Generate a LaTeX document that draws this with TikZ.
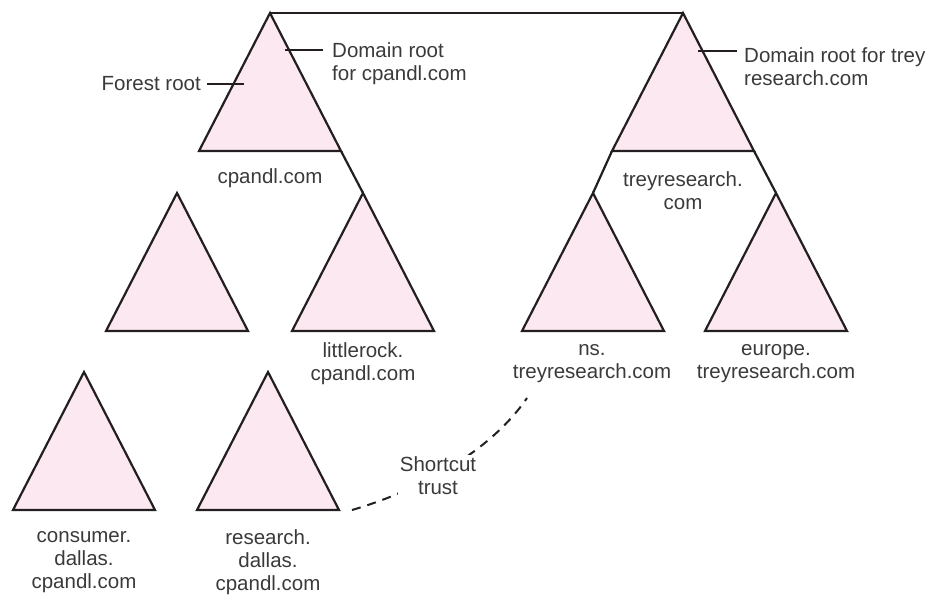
\documentclass[tikz,border=0pt]{standalone}
\usepackage{fontspec}
\setmainfont{Liberation Sans}
\definecolor{domfill}{RGB}{252,232,241}
\definecolor{edge}{RGB}{35,31,32}
\definecolor{txt}{RGB}{58,58,58}
\begin{document}
\begin{tikzpicture}[x=1pt,y=-1pt,
  line join=miter,
  domain/.pic={
    \coordinate (-apex) at (0,0);
    \coordinate (-left) at (-71,138);
    \coordinate (-right) at (71,138);
    \filldraw[fill=domfill,draw=edge,line width=2.2pt] (-apex) -- (-right) -- (-left) -- cycle;
  },
  lbl/.style={text=txt,font=\fontsize{20.5}{22.8}\selectfont,align=center,inner sep=0pt},
  link/.style={draw=edge,line width=2.2pt},
  tick/.style={draw=edge,line width=2pt},
  trust/.style={draw=edge,line width=2pt,dash pattern=on 9pt off 7pt}]
\useasboundingbox (0,0) rectangle (933,595);

% domain trees
\pic (cp) at (270,13) {domain};
\pic (blank) at (177,193) {domain};
\pic (lr) at (363,193) {domain};
\pic (cons) at (84,372) {domain};
\pic (res) at (268,372) {domain};
\pic (tr) at (683,13) {domain};
\pic (ns) at (593,193) {domain};
\pic (eu) at (776,193) {domain};

% tree links
\draw[link] (cp-apex) -- (tr-apex);
\draw[link] (cp-right) -- (lr-apex);
\draw[link] (tr-left) -- (ns-apex);
\draw[link] (tr-right) -- (eu-apex);

% domain names
\node[lbl] (cpname) at (270,178) {cpandl.com};
\node[lbl] (trname) at (683,191) {treyresearch.\\com};
\node[lbl] (lrname) at (363,364) {littlerock.\\cpandl.com};
\node[lbl] (nsname) at (592,364) {ns.\\treyresearch.com};
\node[lbl] (euname) at (776,364) {europe.\\treyresearch.com};
\node[lbl] (consname) at (84,562) {consumer.\\dallas.\\cpandl.com};
\node[lbl] (resname) at (268,562) {research.\\dallas.\\cpandl.com};

% callouts
\node[lbl,anchor=east] (forest) at (201,84) {Forest root};
\coordinate (forestA) at (207,84);
\coordinate (forestB) at (244,84);
\draw[tick] (forestA) -- (forestB);

\node[lbl,anchor=west,align=left] (cproot) at (332,64) {Domain root\\for cpandl.com};
\coordinate (cprootA) at (285,50);
\coordinate (cprootB) at (323,50);
\draw[tick] (cprootA) -- (cprootB);

\node[lbl,anchor=west,align=left] (trroot) at (744,67) {Domain root for trey\\research.com};
\coordinate (trrootA) at (698,51);
\coordinate (trrootB) at (737,51);
\draw[tick] (trrootA) -- (trrootB);

% shortcut trust
\coordinate (trustA) at (352,510);
\coordinate (trustB) at (527,398);
\draw[trust] (trustA) .. controls (420,490) and (490,452) .. (trustB);
\node[lbl,fill=white,inner sep=2pt] (trustlbl) at (438,476) {Shortcut\\trust};
\end{tikzpicture}
\end{document}
